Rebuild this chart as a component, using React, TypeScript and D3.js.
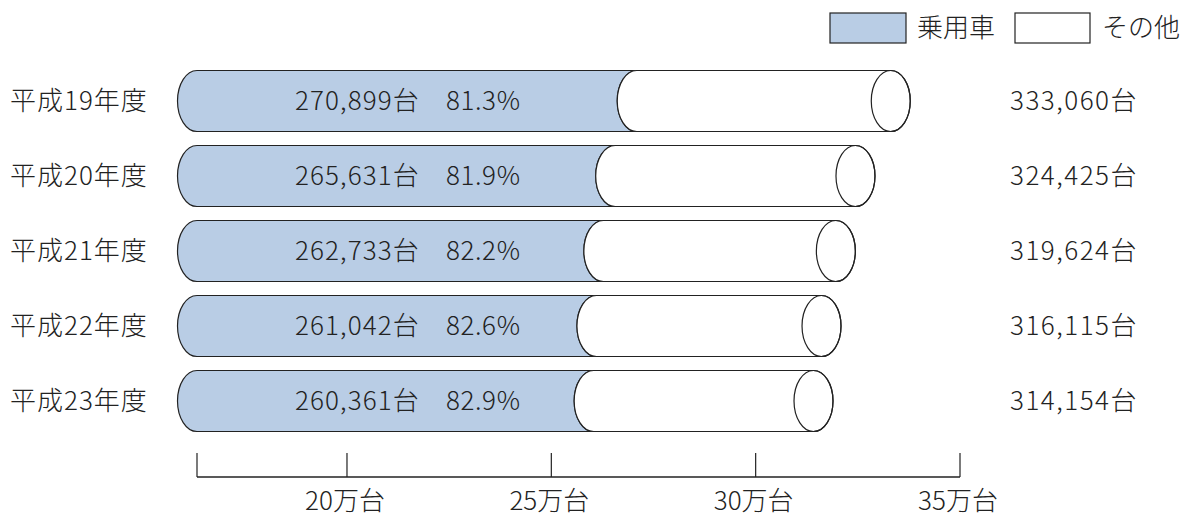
import React from "react";
import * as d3 from "d3";

const years = ["平成19年度", "平成20年度", "平成21年度", "平成22年度", "平成23年度"];
const passenger = [270899, 265631, 262733, 261042, 260361];
const totals = [333060, 324425, 319624, 316115, 314154];
const shares = ["81.3%", "81.9%", "82.2%", "82.6%", "82.9%"];
const tickValues = [200000, 250000, 300000, 350000];
const tickLabels = ["20万台", "25万台", "30万台", "35万台"];

const width = 1183;
const height = 516;
const font = "'Noto Sans CJK JP', 'Noto Sans', sans-serif";
const blue = "#b9cde5";
const ink = "#222";
const fs = 26;

export default function App() {
  // scales
  const x = d3.scaleLinear().domain([163300, 350000]).range([197, 960]);
  const y = d3.scalePoint<string>().domain(years).range([101, 401]);
  const ry = 30.5;
  const rx = 19.5;
  const x0 = x.range()[0];
  const fmt = d3.format(",");
  const axisY = 477;

  const txt = { fontSize: fs, fontFamily: font, fill: ink, fontWeight: 300 } as const;

  return (
    <svg width={width} height={height} style={{ position: "absolute", left: 0, top: 0 }}>
      {/* legend */}
      <rect x={830} y={13} width={76} height={30} fill={blue} stroke={ink} strokeWidth={1.2} />
      <text x={917} y={28} dy="0.35em" {...txt}>乗用車</text>
      <rect x={1015} y={13} width={75} height={30} fill="#fff" stroke={ink} strokeWidth={1.2} />
      <text x={1102} y={28} dy="0.35em" {...txt}>その他</text>

      {years.map((yr, i) => {
        const cy = y(yr)!;
        const top = cy - ry;
        const bot = cy + ry;
        const xp = x(passenger[i]);
        const xt = x(totals[i]);
        const bluePath = `M${x0},${top} H${xp} A${rx},${ry} 0 0 0 ${xp},${bot} H${x0} A${rx},${ry} 0 0 1 ${x0},${top} Z`;
        const whitePath = `M${xp},${top} H${xt} A${rx},${ry} 0 0 1 ${xt},${bot} H${xp} A${rx},${ry} 0 0 1 ${xp},${top} Z`;
        return (
          <g key={yr}>
            <text x={10} y={cy} dy="0.35em" letterSpacing={1} {...txt}>{yr}</text>
            <path d={bluePath} fill={blue} stroke={ink} strokeWidth={1.2} />
            <path d={whitePath} fill="#fff" stroke={ink} strokeWidth={1.2} />
            <ellipse cx={xt} cy={cy} rx={rx} ry={ry} fill="none" stroke={ink} strokeWidth={1.2} />
            <text x={295} y={cy} dy="0.35em" letterSpacing={1.1} {...txt}>
              {fmt(passenger[i])}台
            </text>
            <text x={446} y={cy} dy="0.35em" letterSpacing={0.6} {...txt}>{shares[i]}</text>
            <text x={1010} y={cy} dy="0.35em" letterSpacing={1.5} {...txt}>
              {fmt(totals[i])}台
            </text>
          </g>
        );
      })}

      {/* axis */}
      <line x1={x0} x2={x(350000)} y1={axisY} y2={axisY} stroke={ink} strokeWidth={1.3} />
      {[x.domain()[0], ...tickValues].map((v) => (
        <line key={v} x1={x(v)} x2={x(v)} y1={453} y2={axisY} stroke={ink} strokeWidth={1.2} />
      ))}
      {tickValues.map((v, i) => (
        <text key={v} x={x(v) - 2} y={501} dy="0.35em" textAnchor="middle" {...txt}>
          {tickLabels[i]}
        </text>
      ))}
    </svg>
  );
}
